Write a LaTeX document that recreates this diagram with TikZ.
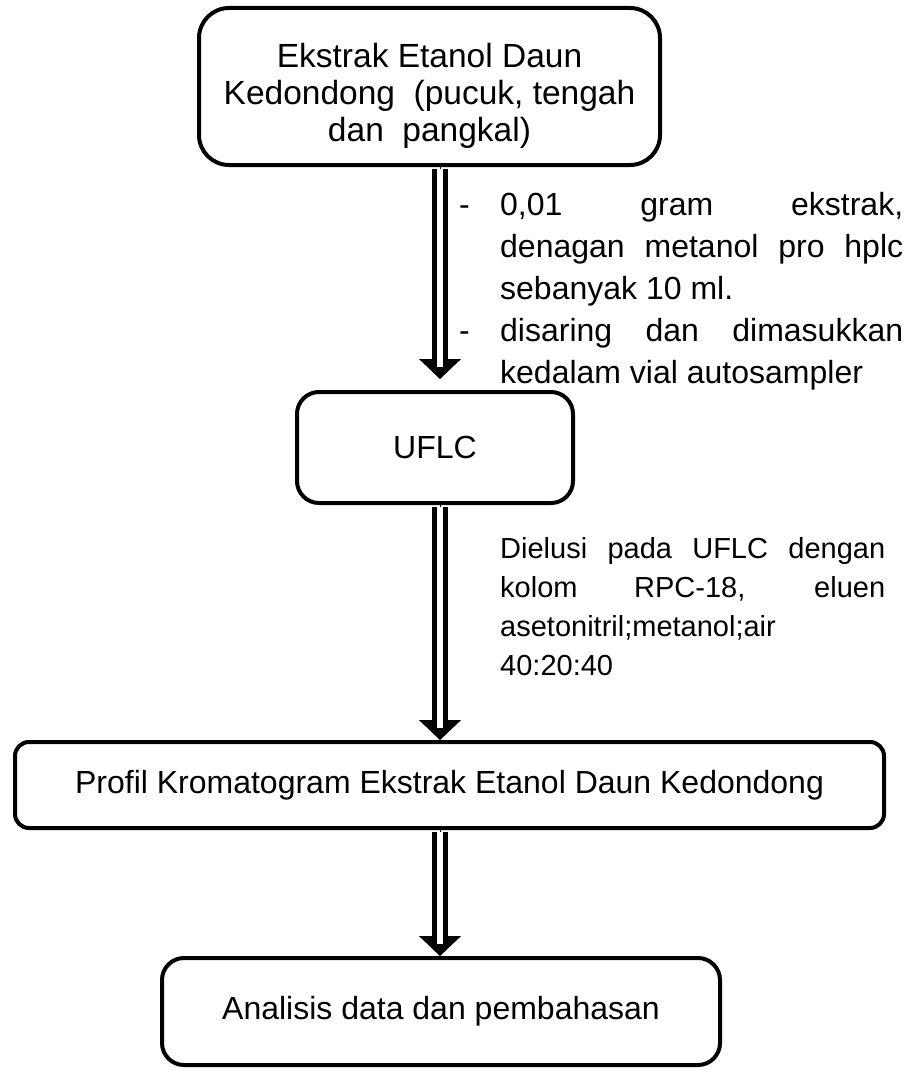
\documentclass[tikz,border=0pt]{standalone}
\usepackage{fontspec}
\setmainfont{Liberation Sans}
\usetikzlibrary{arrows.meta}
\hbadness=10000

\begin{document}
\begin{tikzpicture}[x=1pt,y=-1pt,
  box/.style={draw, line width=4pt, align=center, inner sep=0pt, font=\fontsize{32}{37}\selectfont},
  pipe/.style={draw=black, double=white, line width=5pt, double distance=6pt, shorten <=2pt},
  head/.style={-{Triangle[width=42pt,length=20pt]}, line width=1pt},
  note/.style={anchor=base west, inner sep=0pt, align=justify}]
\useasboundingbox (0,0) rectangle (910,1070);
\coordinate (spine) at (440,0);

\node[box, rounded corners=30pt, minimum width=461pt, minimum height=157pt,
  label={[align=center, font=\fontsize{33.5}{37}\selectfont, yshift=-9pt]center:Ekstrak Etanol Daun\\Kedondong\ \ (pucuk, tengah\\dan\ \ pangkal)}] (ekstrak) at (429.5,86.5) {};
\node[box, rounded corners=22pt, minimum width=276pt, minimum height=111pt] (uflc) at (435,447.5) {UFLC};
\node[box, rounded corners=14pt, minimum width=869pt, minimum height=86pt] (profil) at (449.5,785) {Profil Kromatogram Ekstrak Etanol Daun Kedondong};
\node[box, rounded corners=22pt, minimum width=558pt, minimum height=107pt] (analisis) at (441,1011.5) {Analisis data dan pembahasan};

\node[note, text width=444pt, font=\fontsize{32}{42}\selectfont] (langkah) at (459,215) {%
\makebox[41pt][l]{-}0,01 gram ekstrak,\linebreak
\hspace*{41pt}denagan metanol pro hplc\linebreak
\hspace*{41pt}sebanyak 10 ml.\\
\makebox[41pt][l]{-}disaring dan dimasukkan\linebreak
\hspace*{41pt}kedalam vial autosampler};
\node[note, text width=385pt, font=\fontsize{29}{39}\selectfont] (elusi) at (500,558) {Dielusi pada UFLC dengan\linebreak kolom RPC-18, eluen\linebreak asetonitril;metanol;air\\40:20:40};

\draw[head, shorten >=11pt] (ekstrak.south -| spine) -- (uflc.north -| spine);
\draw[pipe, shorten >=23pt] (ekstrak.south -| spine) -- (uflc.north -| spine);
\draw[head] (uflc.south -| spine) -- (profil.north -| spine);
\draw[pipe, shorten >=12pt] (uflc.south -| spine) -- (profil.north -| spine);
\draw[head] (profil.south -| spine) -- (analisis.north -| spine);
\draw[pipe, shorten >=12pt] (profil.south -| spine) -- (analisis.north -| spine);
\end{tikzpicture}
\end{document}
